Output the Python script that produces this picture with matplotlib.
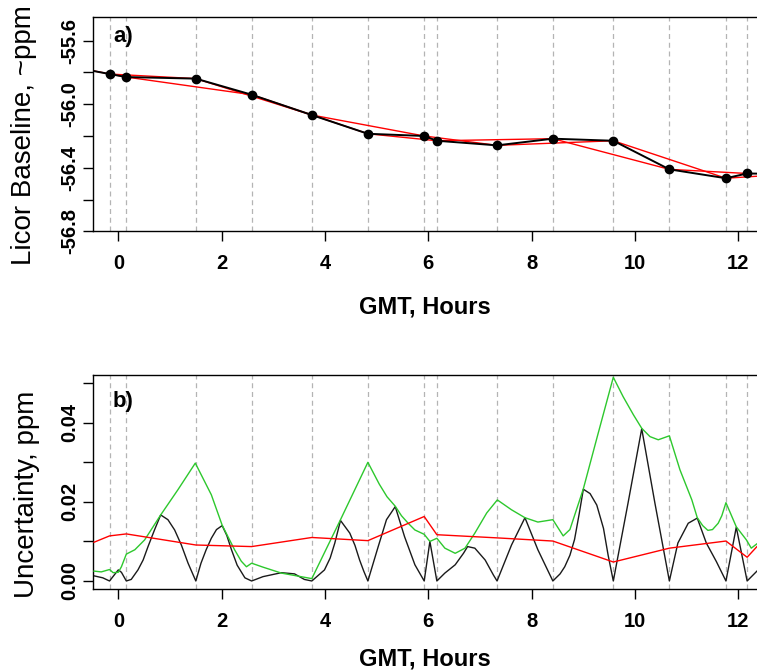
import matplotlib
matplotlib.use("Agg")
import matplotlib.pyplot as plt

plt.rcParams["font.family"] = ["Liberation Sans", "DejaVu Sans"]

# calibration times (GMT hours) and licor baseline (ppm); first/last lie outside the view
cal_hours = [-1.3, -0.17, 0.155, 1.50, 2.58, 3.745, 4.83, 5.92, 6.165, 7.33, 8.41,
             9.58, 10.665, 11.76, 12.17, 13.0]
baseline = [-55.74, -55.810, -55.829, -55.839, -55.940, -56.068, -56.186, -56.200,
            -56.230, -56.259, -56.217, -56.230, -56.410, -56.466, -56.436, -56.44]

# panel b, black curve
blk_hours = [-0.47, -0.30, -0.17, -0.05, 0.0, 0.06, 0.155, 0.25, 0.38, 0.48, 0.575,
             0.70, 0.82, 0.96, 1.09, 1.22, 1.35, 1.50, 1.60, 1.70, 1.80, 1.90, 2.01,
             2.10, 2.19, 2.30, 2.45, 2.58, 2.80, 3.155, 3.41, 3.60, 3.745, 3.99, 4.10,
             4.19, 4.30, 4.48, 4.58, 4.67, 4.75, 4.83, 5.03, 5.19, 5.36, 5.54, 5.74,
             5.92, 6.03, 6.165, 6.32, 6.52, 6.68, 6.76, 6.90, 7.10, 7.26, 7.33, 7.61,
             7.87, 8.12, 8.41, 8.55, 8.64, 8.74, 8.83, 8.92, 9.00, 9.13, 9.26, 9.39,
             9.48, 9.58, 9.865, 10.13, 10.385, 10.665, 10.83, 11.03, 11.205, 11.38,
             11.575, 11.76, 11.96, 12.17, 12.36]
blk_vals = [0.0013, 0.0008, 0.0, 0.0020, 0.0028, 0.0022, 0.0, 0.0004, 0.0028, 0.0053,
            0.0087, 0.0129, 0.0167, 0.0155, 0.0129, 0.0091, 0.0045, 0.0, 0.0045, 0.0079,
            0.0108, 0.0130, 0.0140, 0.0115, 0.0079, 0.0040, 0.0008, 0.0, 0.0011, 0.0021,
            0.0018, 0.0004, 0.0, 0.0028, 0.0058, 0.0096, 0.0153, 0.0121, 0.0090, 0.0053,
            0.0025, 0.0, 0.0087, 0.0155, 0.0188, 0.0112, 0.0041, 0.0, 0.0100, 0.0,
            0.0020, 0.0041, 0.0070, 0.0087, 0.0083, 0.0053, 0.0015, 0.0, 0.0091, 0.0160,
            0.0079, 0.0, 0.0018, 0.0036, 0.0065, 0.0105, 0.0170, 0.0232, 0.0221, 0.0192,
            0.0133, 0.0065, 0.0, 0.0197, 0.0385, 0.0197, 0.0, 0.0096, 0.0146, 0.0159,
            0.0096, 0.0049, 0.0, 0.0136, 0.0, 0.0025]

# panel b, green envelope
grn_hours = [-0.47, -0.33, -0.17, -0.10, 0.0, 0.06, 0.155, 0.32, 0.51, 0.82, 1.155,
             1.49, 1.80, 2.01, 2.25, 2.38, 2.48, 2.58, 2.80, 3.155, 3.745, 4.30, 4.83,
             5.05, 5.20, 5.36, 5.48, 5.61, 5.74, 5.92, 6.03, 6.165, 6.32, 6.52, 6.71,
             6.90, 7.13, 7.335, 7.61, 7.87, 8.12, 8.41, 8.61, 8.74, 9.00, 9.28, 9.58,
             9.77, 9.97, 10.13, 10.29, 10.45, 10.665, 10.87, 11.10, 11.205, 11.31, 11.41,
             11.50, 11.61, 11.68, 11.76, 11.96, 12.155, 12.25, 12.36]
grn_vals = [0.0025, 0.0023, 0.0029, 0.0021, 0.0022, 0.0036, 0.0068, 0.0079, 0.0104,
            0.0167, 0.0231, 0.0298, 0.0218, 0.0141, 0.0079, 0.0050, 0.0036, 0.0045,
            0.0035, 0.0020, 0.0006, 0.0155, 0.0300, 0.0245, 0.0213, 0.0189, 0.0165,
            0.0146, 0.0129, 0.0118, 0.0100, 0.0108, 0.0083, 0.0070, 0.0083, 0.0121,
            0.0172, 0.0205, 0.0180, 0.0160, 0.0149, 0.0155, 0.0114, 0.0130, 0.0233,
            0.0370, 0.0515, 0.0466, 0.0420, 0.0386, 0.0365, 0.0357, 0.0367, 0.0281,
            0.0205, 0.0160, 0.0140, 0.0128, 0.0130, 0.0146, 0.0165, 0.0198, 0.0137,
            0.0104, 0.0083, 0.0094]

# panel b, red curve
red_hours = [-0.47, -0.17, 0.155, 1.50, 2.58, 3.745, 4.83, 5.92, 6.165, 7.33, 8.41,
             9.58, 10.665, 11.76, 12.17, 12.36]
red_vals = [0.0098, 0.0114, 0.0119, 0.0091, 0.0087, 0.0110, 0.0102, 0.0163, 0.0117,
            0.0109, 0.0101, 0.0048, 0.0083, 0.0101, 0.0060, 0.0087]

x_ticks = [0, 2, 4, 6, 8, 10, 12]
top_yticks = [-55.6, -55.8, -56.0, -56.2, -56.4, -56.6, -56.8]
top_ylabels = ["-55.6", "", "-56.0", "", "-56.4", "", "-56.8"]
bot_yticks = [0.0, 0.01, 0.02, 0.03, 0.04, 0.05]
bot_ylabels = ["0.00", "", "0.02", "", "0.04", ""]

W, H = 757, 671
XLIM = (-0.49, 12.361)


def style_axes(ax, yticks, ylabels):
    ax.set_xlim(*XLIM)
    ax.spines["right"].set_visible(False)
    for s in ax.spines.values():
        s.set_linewidth(1.0)
    for h in cal_hours:
        ax.axvline(h, color="#b4b4b4", lw=0.9, ls=(0, (4, 3)), zorder=0)
    ax.set_xticks(x_ticks)
    ax.set_xticklabels([str(t) for t in x_ticks], fontweight="bold")
    ax.set_yticks(yticks)
    ax.set_yticklabels(ylabels, fontweight="bold", rotation=90, va="center")
    ax.tick_params(axis="both", direction="out", length=7, width=1.0, labelsize=14.5)
    ax.tick_params(axis="x", pad=9.5)
    ax.tick_params(axis="y", pad=2.7)


def main():
    fig = plt.figure(figsize=(W / 100, H / 100), dpi=100)

    # panel a
    ax1 = fig.add_axes([93 / W, 1 - 231.3 / H, 664 / W, 214.3 / H])
    ax1.set_ylim(-56.8, -55.451)
    style_axes(ax1, top_yticks, top_ylabels)
    ax1.plot(cal_hours[0::2], baseline[0::2], color="red", lw=1.0, zorder=2)
    ax1.plot(cal_hours[1::2], baseline[1::2], color="red", lw=1.0, zorder=2)
    ax1.plot(cal_hours, baseline, color="black", lw=1.4, zorder=3)
    ax1.plot(cal_hours, baseline, "o", color="black", ms=6, zorder=4)
    ax1.text(0.030, 0.909, "a)", transform=ax1.transAxes, fontsize=16,
             fontweight="bold", va="center", ha="left")

    # panel b
    ax2 = fig.add_axes([93 / W, 1 - 589.3 / H, 664 / W, 214.0 / H])
    ax2.set_ylim(-0.0021, 0.052)
    style_axes(ax2, bot_yticks, bot_ylabels)
    ax2.plot(blk_hours, blk_vals, color="#1a1a1a", lw=1.0, zorder=2)
    ax2.plot(grn_hours, grn_vals, color="#2dc82d", lw=1.0, zorder=3)
    ax2.plot(red_hours, red_vals, color="red", lw=1.0, zorder=4)
    ax2.text(0.030, 0.8776, "b)", transform=ax2.transAxes, fontsize=16,
             fontweight="bold", va="center", ha="left")

    # axis titles
    fig.text(425 / W, 1 - 307 / H, "GMT, Hours", fontsize=17, fontweight="bold",
             ha="center", va="center")
    fig.text(425 / W, 1 - 659 / H, "GMT, Hours", fontsize=17, fontweight="bold",
             ha="center", va="center")
    fig.text(24 / W, 1 - 135 / H, "Licor Baseline, ~ppm", fontsize=20, rotation=90,
             ha="center", va="center")
    fig.text(27 / W, 1 - 494 / H, "Uncertainty, ppm", fontsize=20, rotation=90,
             ha="center", va="center")

    fig.savefig("out.png", dpi=100)


if __name__ == "__main__":
    main()
